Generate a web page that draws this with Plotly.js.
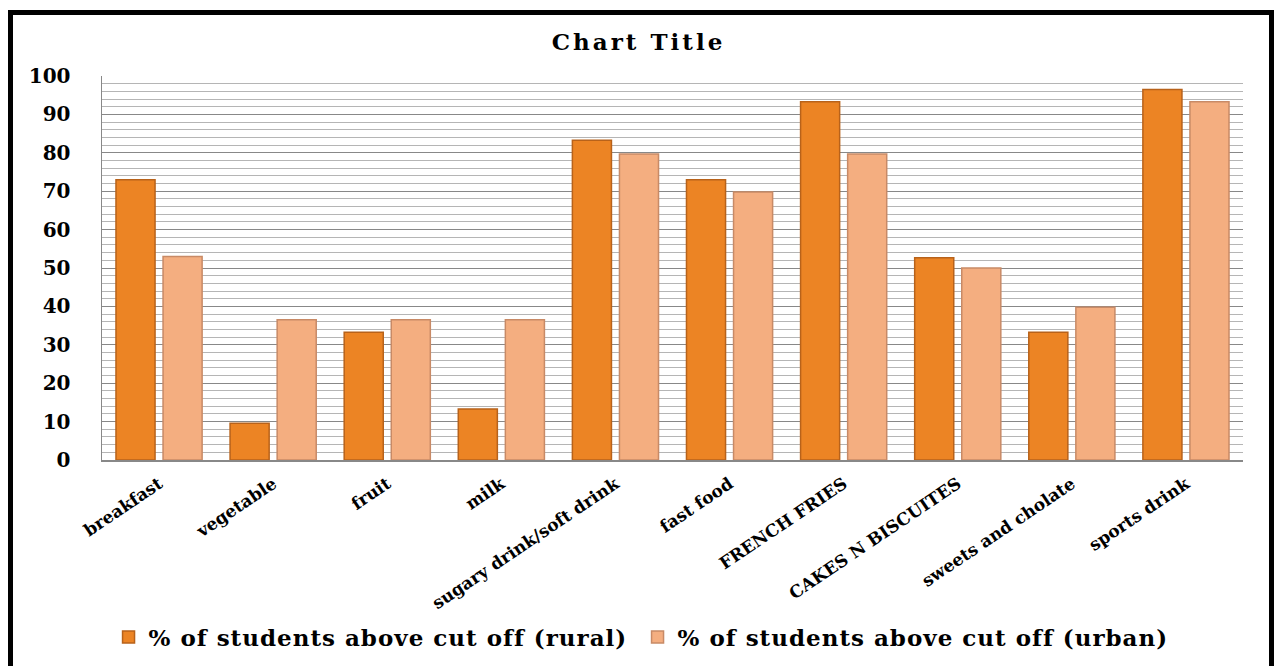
<!DOCTYPE html>
<html>
<head>
<meta charset="utf-8">
<script src="https://cdn.plot.ly/plotly-3.0.1.min.js"></script>
<style>
html,body{margin:0;padding:0;background:#fff;overflow:hidden;}
#frame{position:absolute;left:8px;top:10px;width:1256px;height:700px;border:5px solid #000;pointer-events:none;}
#chart{position:absolute;left:0;top:0;width:1277px;height:666px;}
#chart .gtitle{letter-spacing:3px;}
#chart .legendtext{letter-spacing:1px;}
</style>
</head>
<body>
<div id="chart"></div>
<div id="frame"></div>
<script>
const categories = ["breakfast","vegetable","fruit","milk","sugary drink/soft drink","fast food","FRENCH FRIES","CAKES N BISCUITES","sweets and cholate","sports drink"];
const rural = [73, 9.6, 33.3, 13.3, 83.3, 73, 93.3, 52.7, 33.3, 96.5];
const urban = [53, 36.5, 36.5, 36.5, 79.7, 69.8, 79.7, 50, 39.8, 93.3];
const seriesNames = ["% of students above cut off (rural)", "% of students above cut off (urban)"];
const yTicks = [0,10,20,30,40,50,60,70,80,90,100];

const font = "DejaVu Serif, Liberation Serif, serif";
const data = [
  {type:"bar", x:categories, y:rural, name:seriesNames[0],
   marker:{color:"#EC8424", line:{color:"#B8621A", width:1.5}}},
  {type:"bar", x:categories, y:urban, name:seriesNames[1],
   marker:{color:"#F4AE80", line:{color:"#C88A66", width:1.5}}}
];
const layout = {
  width:1277, height:666,
  margin:{l:102, r:34, t:76, b:206},
  paper_bgcolor:"rgba(0,0,0,0)", plot_bgcolor:"#fff",
  title:{text:"<b>Chart Title</b>", x:0.5, xanchor:"center", xref:"container", y:0.937, yanchor:"middle",
         font:{family:font, size:23, color:"#000"}},
  barmode:"group", bargap:0.175, bargroupgap:0.17,
  xaxis:{tickangle:-34, tickfont:{family:font, size:17, color:"#000", weight:"bold"},
         showline:true, linecolor:"#888", linewidth:1.5, showgrid:false, ticks:"",
         ticklabelstandoff:6, automargin:false},
  yaxis:{range:[0,100], tickvals:yTicks, ticktext:yTicks.map(v=>"<b>"+v+"</b>"),
         tickfont:{family:font, size:20, color:"#000"},
         showline:true, linecolor:"#888", linewidth:1.5, ticks:"",
         showgrid:true, gridcolor:"#888", gridwidth:1, zeroline:false,
         minor:{dtick:2, showgrid:true, gridcolor:"#b5b5b5", gridwidth:1},
         ticklabelstandoff:26, automargin:false},
  showlegend:true,
  legend:{orientation:"h", xref:"container", x:0.085, xanchor:"left",
          yref:"container", y:0.0435, yanchor:"middle",
          font:{family:font, size:23, color:"#000", weight:"bold"},
          entrywidthmode:"pixels", entrywidth:484,
          itemwidth:30, tracegroupgap:0}
};
Plotly.newPlot("chart", data, layout, {displayModeBar:false, staticPlot:true});
</script>
</body>
</html>
